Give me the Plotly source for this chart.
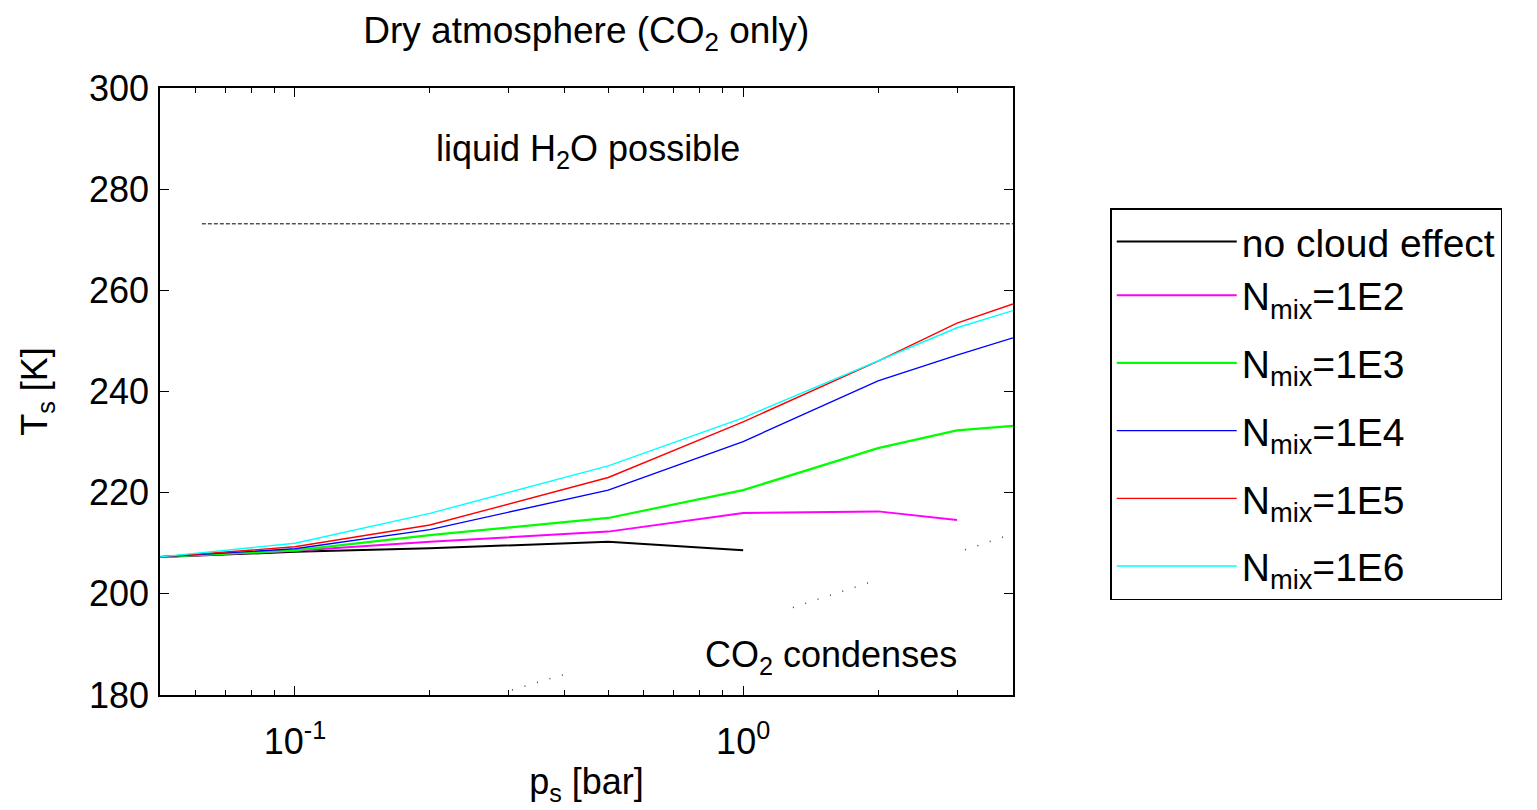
import plotly.graph_objects as go
import math

# ---- data ----
p_bar = [0.05, 0.1, 0.2, 0.5, 1, 2, 3, 4]
T_none = [207.3, 208.3, 209.0, 210.3, 208.6]
T_1e2 = [207.3, 208.5, 210.3, 212.3, 216.0, 216.3, 214.6]
T_1e3 = [207.3, 208.6, 211.6, 215.0, 220.5, 228.8, 232.3, 233.2]
T_1e4 = [207.3, 208.9, 212.7, 220.5, 230.1, 242.1, 247.2, 250.6]
T_1e5 = [207.3, 209.3, 213.6, 223.0, 234.0, 246.0, 253.5, 257.3]
T_1e6 = [207.3, 210.0, 215.9, 225.3, 234.8, 246.0, 252.6, 256.0]

series_names = ["no cloud effect", "N<sub>mix</sub>=1E2", "N<sub>mix</sub>=1E3",
                "N<sub>mix</sub>=1E4", "N<sub>mix</sub>=1E5", "N<sub>mix</sub>=1E6"]
series_T = [T_none, T_1e2, T_1e3, T_1e4, T_1e5, T_1e6]
series_colors = ["#000000", "#ff00ff", "#00ff00", "#0000ff", "#ff0000", "#00ffff"]
series_widths = [2, 2, 2.2, 1.4, 1.4, 1.4]
series_groups = ["g1", "g1", "g2", "g3", "g4", "g5"]

# CO2 condensation curve (visible dotted segments)
co2_p = [0.305, 0.411, None, 1.291, 1.935, None, 3.127, 3.82]
co2_T = [181.0, 184.4, None, 197.3, 202.4, None, 208.7, 211.3]

# freezing line of water
h2o_p = [0.062, 4.0]
h2o_T = [273.15, 273.15]

y_ticks = [180, 200, 220, 240, 260, 280, 300]
x_ticks = [0.1, 1]
x_ticktext = ["10<sup>-1</sup>", "10<sup>0</sup>"]
x_minor = [0.05, 0.06, 0.07, 0.08, 0.09, 0.2, 0.3, 0.4, 0.5, 0.6, 0.7, 0.8, 0.9, 2, 3, 4]

FONT = "Liberation Sans, Arial, sans-serif"
FS = 36

fig = go.Figure()
for name, T, col, w, g in zip(series_names, series_T, series_colors, series_widths, series_groups):
    fig.add_trace(go.Scatter(x=p_bar[:len(T)], y=T, mode="lines", name=name,
                             legendgroup=g,
                             line=dict(color=col, width=w)))

fig.add_trace(go.Scatter(x=h2o_p, y=h2o_T, mode="lines", showlegend=False,
                         line=dict(color="#000000", width=1, dash="4px,2px")))
fig.add_trace(go.Scatter(x=co2_p, y=co2_T, mode="lines", showlegend=False,
                         line=dict(color="#444444", width=1.5, dash="1px,12px")))

fig.add_annotation(x=math.log10(0.45), y=287.5, xref="x", yref="y",
                   text="liquid H<sub>2</sub>O possible", showarrow=False,
                   font=dict(size=FS, color="black", family=FONT))
fig.add_annotation(x=math.log10(1.57), y=187.5, xref="x", yref="y",
                   text="CO<sub>2</sub> condenses", showarrow=False,
                   font=dict(size=FS, color="black", family=FONT))

fig.update_layout(
    width=1537, height=810,
    paper_bgcolor="white", plot_bgcolor="white",
    margin=dict(l=160, r=524, t=88, b=115),
    font=dict(family=FONT, size=FS, color="black"),
    title=dict(text="Dry atmosphere (CO<sub>2</sub> only)", x=0.3815, xanchor="center",
               y=0.963, yanchor="middle", yref="container",
               font=dict(size=37, family=FONT, color="black")),
    showlegend=True,
    legend=dict(x=1.114, xanchor="left", y=0.802, yanchor="top",
                bgcolor="white", bordercolor="black", borderwidth=1.5,
                font=dict(size=39, family=FONT, color="black"),
                itemwidth=120, tracegroupgap=14),
    xaxis=dict(type="log", range=[math.log10(0.05), math.log10(4)],
               tickvals=x_ticks, ticktext=x_ticktext,
               ticks="inside", ticklen=9, tickwidth=1.2, tickcolor="black",
               ticklabelstandoff=14,
               showline=True, linecolor="black", linewidth=1.5, mirror="allticks",
               showgrid=False, zeroline=False,
               minor=dict(tickvals=x_minor, ticks="inside", ticklen=5,
                          tickcolor="black", showgrid=False),
               title=dict(text="p<sub>s</sub> [bar]", standoff=8,
                          font=dict(size=FS, family=FONT))),
    yaxis=dict(range=[180, 300], tickvals=y_ticks,
               ticks="inside", ticklen=9, tickwidth=1.2, tickcolor="black",
               ticklabelstandoff=2,
               showline=True, linecolor="black", linewidth=1.5, mirror="allticks",
               showgrid=False, zeroline=False,
               title=dict(text="T<sub>s</sub> [K]", standoff=30,
                          font=dict(size=FS, family=FONT))),
)

fig.write_html("out.html")
